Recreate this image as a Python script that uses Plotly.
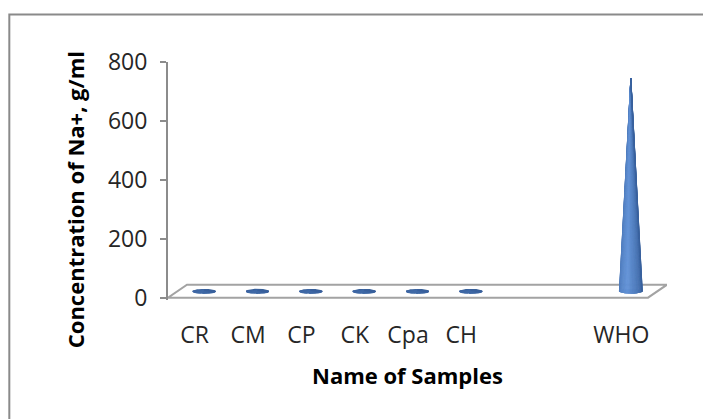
import numpy as np
import plotly.graph_objects as go

# Sodium concentration per sample, with the WHO reference value
categories = ["CR", "CM", "CP", "CK", "Cpa", "CH", " ", "  ", "WHO"]
na_values = [4.2, 3.8, 4.5, 3.9, 4.1, 4.3, None, None, 722]
y_ticks = [0, 200, 400, 600, 800]

BLUE_DARK = (56, 96, 156)
BLUE_LIGHT = (100, 148, 216)

# oblique 3D look: depth offsets of the floor (x in category units, y in value units)
DEPTH_X = 0.356
DEPTH_Y = 44.0
MID_X = DEPTH_X / 2
MID_Y = DEPTH_Y / 2
CONE_HALF_W = 0.215
ELLIPSE_H = 16.0
N_BANDS = 40

fig = go.Figure()


def shade(t, strength=1.0):
    # light band left of centre, darker towards both edges
    peak = 0.4
    if t < peak:
        k = 0.5 + 0.5 * (t / peak)
    else:
        k = 1.0 - (t - peak) / (1 - peak)
    k = max(0.0, min(1.0, k)) * strength
    c = [int(BLUE_DARK[j] + (BLUE_LIGHT[j] - BLUE_DARK[j]) * k) for j in range(3)]
    return f"rgb({c[0]},{c[1]},{c[2]})"


for i, v in enumerate(na_values):
    if v is None:
        continue
    xc = i + MID_X
    yb = MID_Y
    apex = yb + v
    tall = v > 50
    # base ellipse
    th = np.linspace(0, 2 * np.pi, 60)
    ex = xc + CONE_HALF_W * np.cos(th)
    ey = yb + ELLIPSE_H / 2 * np.sin(th)
    fig.add_trace(go.Scatter(x=ex, y=ey, mode="lines", fill="toself",
                             fillcolor="rgb(56,96,152)", line=dict(width=0),
                             hoverinfo="skip", showlegend=False))
    # cone sides drawn as thin shaded wedges sharing the apex
    for b in range(N_BANDS):
        t0 = b / N_BANDS
        t1 = (b + 1) / N_BANDS
        a0 = np.pi * (1 - t0)
        a1 = np.pi * (1 - t1)
        aa = np.linspace(a0, a1, 3)
        xs = list(xc + CONE_HALF_W * np.cos(aa))
        ys = list(yb - ELLIPSE_H / 2 * np.sin(aa))
        col = shade((t0 + t1) / 2, 1.0 if tall else 0.2)
        fig.add_trace(go.Scatter(x=[xc] + xs + [xc], y=[apex] + ys + [apex],
                                 mode="lines", fill="toself", fillcolor=col,
                                 line=dict(width=0.8, color=col),
                                 hoverinfo="skip", showlegend=False))

n = len(categories)
x_left = -0.5
x_right = n - 0.5

# floor of the 3D plot
floor_col = "#a3a3a3"
fig.add_shape(type="path", xref="x", yref="y",
              path=(f"M {x_left},0 L {x_right},0 L {x_right + DEPTH_X},{DEPTH_Y} "
                    f"L {x_left + DEPTH_X},{DEPTH_Y} Z"),
              line=dict(color=floor_col, width=2), fillcolor="rgba(0,0,0,0)",
              layer="below")

# outer chart frame
fig.add_shape(type="rect", xref="paper", yref="paper",
              x0=-0.318, x1=1.2, y0=-0.8, y1=1.20,
              line=dict(color="#8a8a8a", width=2), fillcolor="rgba(0,0,0,0)")

# axis titles
fig.add_annotation(text="<b>Name of Samples</b>", xref="paper", yref="paper",
                   x=0.479, y=-0.315, xanchor="center", yanchor="middle",
                   showarrow=False,
                   font=dict(size=22, family="Open Sans", color="#000000"))
fig.add_annotation(text="<b>Concentration of Na+, g/ml</b>", xref="paper", yref="paper",
                   x=-0.186, y=0.42, xanchor="center", yanchor="middle",
                   textangle=-90, showarrow=False,
                   font=dict(size=22, family="Open Sans", color="#000000"))

fig.update_layout(
    width=703, height=419,
    margin=dict(l=168, r=36, t=62, b=119),
    paper_bgcolor="white", plot_bgcolor="white",
    showlegend=False,
    font=dict(family="Open Sans", color="#262626"),
    xaxis=dict(
        range=[x_left, x_right + DEPTH_X],
        tickmode="array", tickvals=list(range(n)), ticktext=categories,
        showgrid=False, zeroline=False, showline=False,
        ticks="outside", ticklen=14, tickcolor="rgba(0,0,0,0)",
        tickfont=dict(size=23, family="Open Sans", color="#262626"),
        fixedrange=True,
    ),
    yaxis=dict(
        range=[-8, 800],
        tickmode="array", tickvals=y_ticks,
        showgrid=False, zeroline=False,
        showline=True, linecolor="#8c8c8c", linewidth=2,
        ticks="outside", ticklen=6, tickcolor="#8c8c8c", tickwidth=2,
        ticklabelstandoff=8,
        tickfont=dict(size=23, family="Open Sans", color="#262626"),
        fixedrange=True,
    ),
)

fig.write_html("out.html")
